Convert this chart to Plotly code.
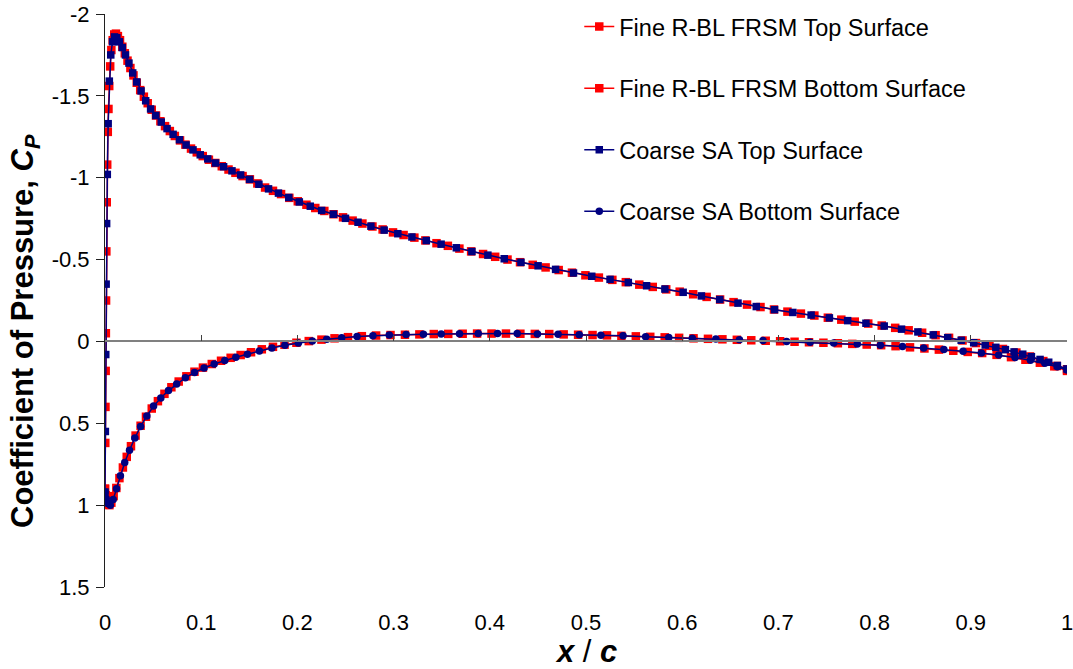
import plotly.graph_objects as go

# ---------------- data ----------------
fine_top_x = [0.0, 0.0003, 0.0005, 0.0007, 0.0009, 0.0011, 0.0014, 0.0018, 0.0023, 0.0029,
              0.0036, 0.0044, 0.0054, 0.0066, 0.0080, 0.0096, 0.0114, 0.0134, 0.0156, 0.0180,
              0.0206, 0.0234, 0.0264, 0.0296, 0.0330, 0.0366, 0.0404, 0.0444, 0.0486, 0.0530,
              0.0576, 0.0624, 0.0674, 0.0726, 0.0780, 0.0836, 0.0894, 0.0954, 0.1016, 0.1080,
              0.1146, 0.1214, 0.1284, 0.1356, 0.1430, 0.1506, 0.1584, 0.1664, 0.1746, 0.1830,
              0.1916, 0.2004, 0.2094, 0.2186, 0.2280, 0.2376, 0.2474, 0.2574, 0.2676, 0.2780,
              0.2886, 0.2994, 0.3104, 0.3216, 0.3330, 0.3446, 0.3564, 0.3684, 0.3806, 0.3930,
              0.4056, 0.4184, 0.4314, 0.4446, 0.4580, 0.4716, 0.4854, 0.4994, 0.5134, 0.5274,
              0.5414, 0.5554, 0.5694, 0.5834, 0.5974, 0.6114, 0.6254, 0.6394, 0.6534, 0.6674,
              0.6814, 0.6954, 0.7094, 0.7234, 0.7374, 0.7514, 0.7654, 0.7794, 0.7934, 0.8074,
              0.8214, 0.8354, 0.8494, 0.8634, 0.8774, 0.8914, 0.9054, 0.9194, 0.9334, 0.9474,
              0.9614, 0.9754, 0.9894, 1.0]
fine_top_cp = [0.90, 0.62, 0.40, 0.18, -0.05, -0.25, -0.55, -0.85, -1.08, -1.28,
               -1.42, -1.56, -1.68, -1.78, -1.84, -1.875, -1.88, -1.865, -1.84, -1.80,
               -1.76, -1.715, -1.67, -1.625, -1.58, -1.535, -1.495, -1.455, -1.415, -1.38,
               -1.345, -1.315, -1.285, -1.255, -1.228, -1.202, -1.178, -1.155, -1.132, -1.11,
               -1.09, -1.07, -1.05, -1.03, -1.01, -0.99, -0.965, -0.94, -0.92, -0.90,
               -0.877, -0.856, -0.835, -0.815, -0.797, -0.777, -0.758, -0.738, -0.72, -0.702,
               -0.684, -0.666, -0.65, -0.634, -0.617, -0.60, -0.584, -0.567, -0.55, -0.534,
               -0.517, -0.50, -0.484, -0.468, -0.452, -0.436, -0.42, -0.404, -0.39, -0.376,
               -0.362, -0.347, -0.333, -0.318, -0.304, -0.288, -0.272, -0.256, -0.240, -0.225,
               -0.21, -0.195, -0.182, -0.17, -0.158, -0.145, -0.133, -0.121, -0.109, -0.097,
               -0.083, -0.068, -0.053, -0.038, -0.022, -0.006, 0.01, 0.027, 0.046, 0.068,
               0.092, 0.12, 0.15, 0.17]

fine_bot_x = [0.0, 0.0008, 0.0018, 0.0030, 0.0046, 0.0066, 0.0090, 0.0118, 0.0150, 0.0186,
              0.0226, 0.0270, 0.0318, 0.0370, 0.0426, 0.0486, 0.0550, 0.0618, 0.0690, 0.0766,
              0.0846, 0.0930, 0.1018, 0.1110, 0.1206, 0.1306, 0.1410, 0.1518, 0.1630, 0.1746,
              0.1866, 0.1990, 0.2118, 0.2250, 0.2386, 0.2526, 0.2670, 0.2818, 0.2968, 0.3118,
              0.3268, 0.3418, 0.3568, 0.3718, 0.3868, 0.4018, 0.4168, 0.4318, 0.4468, 0.4618,
              0.4768, 0.4918, 0.5068, 0.5218, 0.5368, 0.5518, 0.5668, 0.5818, 0.5968, 0.6118,
              0.6268, 0.6418, 0.6568, 0.6718, 0.6868, 0.7018, 0.7168, 0.7318, 0.7468, 0.7618,
              0.7768, 0.7918, 0.8068, 0.8218, 0.8368, 0.8518, 0.8668, 0.8818, 0.8968, 0.9118,
              0.9268, 0.9418, 0.9568, 0.9718, 0.9868, 1.0]
fine_bot_cp = [0.90, 0.94, 0.975, 0.995, 1.0, 0.985, 0.945, 0.895, 0.835, 0.77,
               0.705, 0.64, 0.575, 0.515, 0.46, 0.41, 0.365, 0.32, 0.28, 0.245,
               0.213, 0.185, 0.16, 0.138, 0.118, 0.10, 0.083, 0.066, 0.048, 0.033,
               0.02, 0.008, -0.002, -0.011, -0.019, -0.026, -0.032, -0.036, -0.039, -0.041,
               -0.043, -0.045, -0.046, -0.047, -0.048, -0.048, -0.048, -0.047, -0.046, -0.045,
               -0.043, -0.041, -0.039, -0.037, -0.034, -0.031, -0.028, -0.025, -0.022, -0.019,
               -0.016, -0.013, -0.010, -0.007, -0.004, -0.001, 0.002, 0.005, 0.008, 0.011,
               0.015, 0.019, 0.023, 0.029, 0.036, 0.043, 0.05, 0.057, 0.064, 0.071,
               0.082, 0.096, 0.112, 0.13, 0.152, 0.18]

coarse_top_x = [0.0, 0.0004, 0.0008, 0.0012, 0.0017, 0.0024, 0.0033, 0.0045, 0.0060, 0.0078,
                0.0099, 0.0123, 0.0150, 0.0180, 0.0213, 0.0249, 0.0288, 0.0330, 0.0375, 0.0423,
                0.0474, 0.0528, 0.0585, 0.0645, 0.0708, 0.0774, 0.0843, 0.0915, 0.0990, 0.1068,
                0.1149, 0.1233, 0.1320, 0.1410, 0.1503, 0.1600, 0.1700, 0.1803, 0.1910, 0.2020,
                0.2134, 0.2252, 0.2374, 0.2500, 0.2630, 0.2764, 0.2902, 0.3044, 0.3190, 0.3340,
                0.3494, 0.3652, 0.3814, 0.3980, 0.4150, 0.4324, 0.4502, 0.4684, 0.4870, 0.5060,
                0.5250, 0.5440, 0.5630, 0.5820, 0.6010, 0.6200, 0.6390, 0.6580, 0.6770, 0.6960,
                0.7150, 0.7340, 0.7530, 0.7720, 0.7910, 0.8100, 0.8280, 0.8450, 0.8610, 0.8760,
                0.8900, 0.9030, 0.9150, 0.9260, 0.9360, 0.9450, 0.9540, 0.9630, 0.9720, 0.9810,
                0.9900, 1.0]
coarse_top_cp = [0.92, 0.55, 0.08, -0.35, -0.72, -1.02, -1.33, -1.59, -1.75, -1.83,
                 -1.86, -1.855, -1.83, -1.795, -1.75, -1.70, -1.64, -1.585, -1.53, -1.47,
                 -1.42, -1.38, -1.34, -1.30, -1.265, -1.232, -1.20, -1.17, -1.14, -1.115,
                 -1.09, -1.067, -1.042, -1.017, -0.99, -0.96, -0.932, -0.906, -0.879, -0.852,
                 -0.826, -0.80, -0.777, -0.752, -0.728, -0.704, -0.68, -0.658, -0.638, -0.616,
                 -0.594, -0.572, -0.549, -0.527, -0.505, -0.483, -0.462, -0.44, -0.418, -0.398,
                 -0.379, -0.36, -0.34, -0.32, -0.30, -0.278, -0.256, -0.234, -0.213, -0.194,
                 -0.177, -0.161, -0.144, -0.127, -0.111, -0.094, -0.075, -0.058, -0.04, -0.023,
                 -0.007, 0.008, 0.022, 0.036, 0.05, 0.064, 0.078, 0.093, 0.11, 0.127,
                 0.147, 0.168]

coarse_bot_x = [0.0, 0.0012, 0.0030, 0.0055, 0.0085, 0.0120, 0.0160, 0.0205, 0.0255, 0.0310,
                0.0370, 0.0435, 0.0505, 0.0580, 0.0660, 0.0745, 0.0835, 0.0930, 0.1030, 0.1135,
                0.1245, 0.1360, 0.1480, 0.1605, 0.1735, 0.1870, 0.2010, 0.2155, 0.2305, 0.2460,
                0.2620, 0.2785, 0.2955, 0.3130, 0.3310, 0.3495, 0.3685, 0.3880, 0.4080, 0.4285,
                0.4495, 0.4710, 0.4930, 0.5155, 0.5385, 0.5620, 0.5860, 0.6105, 0.6350, 0.6595,
                0.6840, 0.7085, 0.7330, 0.7575, 0.7820, 0.8060, 0.8290, 0.8510, 0.8720, 0.8920,
                0.9110, 0.9290, 0.9460, 0.9620, 0.9770, 0.9900, 1.0]
coarse_bot_cp = [0.92, 0.96, 0.99, 1.0, 0.965, 0.90, 0.82, 0.74, 0.665, 0.59,
                 0.52, 0.455, 0.395, 0.345, 0.30, 0.26, 0.222, 0.19, 0.162, 0.138,
                 0.117, 0.097, 0.078, 0.058, 0.04, 0.024, 0.01, -0.003, -0.013, -0.022,
                 -0.03, -0.035, -0.039, -0.042, -0.044, -0.046, -0.047, -0.048, -0.049, -0.048,
                 -0.046, -0.044, -0.041, -0.038, -0.034, -0.029, -0.024, -0.02, -0.015, -0.01,
                 -0.005, 0.0, 0.005, 0.01, 0.016, 0.023, 0.031, 0.04, 0.05, 0.06,
                 0.07, 0.083, 0.098, 0.115, 0.134, 0.155, 0.175]

series_names = ["Fine R-BL FRSM Top Surface", "Fine R-BL FRSM Bottom Surface",
                "Coarse SA Top Surface", "Coarse SA Bottom Surface"]

x_tick_vals = [0, 0.1, 0.2, 0.3, 0.4, 0.5, 0.6, 0.7, 0.8, 0.9, 1.0]
x_tick_text = ["0", "0.1", "0.2", "0.3", "0.4", "0.5", "0.6", "0.7", "0.8", "0.9", "1"]
y_tick_vals = [-2, -1.5, -1, -0.5, 0, 0.5, 1, 1.5]
y_tick_text = ["-2", "-1.5", "-1", "-0.5", "0", "0.5", "1", "1.5"]
y_min, y_max = -2, 1.5

# ---------------- figure ----------------
RED = "#FF0000"
NAVY = "#000080"
FONT = "Liberation Sans, Arial, sans-serif"

fig = go.Figure()
styles = [
    (fine_top_x, fine_top_cp, RED, "square", 8.5),
    (fine_bot_x, fine_bot_cp, RED, "square", 8.5),
    (coarse_top_x, coarse_top_cp, NAVY, "square", 7.5),
    (coarse_bot_x, coarse_bot_cp, NAVY, "circle", 7.5),
]
for i, (xs, ys, col, sym, sz) in enumerate(styles):
    fig.add_trace(go.Scatter(
        x=xs, y=ys, mode="lines+markers", name=series_names[i],
        line=dict(color=col, width=1.5),
        marker=dict(color=col, symbol=sym, size=sz, line=dict(width=0)),
        legendgroup=f"g{i}",
    ))

# empty helper trace so that the crossing x-axis (at Cp = 0) is drawn
fig.add_trace(go.Scatter(x=[None], y=[None], xaxis="x2", yaxis="y",
                         showlegend=False, hoverinfo="skip"))

fig.update_layout(
    width=1073, height=669,
    margin=dict(l=105, r=6, t=14, b=82, autoexpand=False),
    paper_bgcolor="white", plot_bgcolor="white",
    font=dict(family=FONT, size=22, color="black"),
    showlegend=True,
    legend=dict(x=0.493, y=1.016, xanchor="left", yanchor="top",
                font=dict(family=FONT, size=23.5, color="black"),
                tracegroupgap=28, bgcolor="rgba(0,0,0,0)", itemwidth=30),
    xaxis=dict(range=[0, 1], tickvals=x_tick_vals, ticktext=x_tick_text,
               showline=False, showgrid=False, zeroline=False,
               ticks="outside", ticklen=16, tickcolor="rgba(0,0,0,0)",
               ticklabeloverflow="allow",
               tickfont=dict(family=FONT, size=22, color="black")),
    xaxis2=dict(range=[0, 1], overlaying="x", anchor="free",
                position=(y_max - 0) / (y_max - y_min),
                side="bottom", showline=True, linecolor="#808080", linewidth=1.5,
                tickvals=x_tick_vals, ticks="inside", ticklen=6, tickcolor="#404040",
                showticklabels=False, showgrid=False, zeroline=False),
    yaxis=dict(range=[y_max, y_min], tickvals=y_tick_vals, ticktext=y_tick_text,
               showline=True, linecolor="#202020", linewidth=1,
               ticks="outside", ticklen=8, tickcolor="#202020",
               ticklabelstandoff=2,
               showgrid=False, zeroline=False,
               tickfont=dict(family=FONT, size=22, color="black")),
    annotations=[
        dict(text="<b>Coefficient of Pressure, <i>C<sub>P</sub></i></b>",
             xref="paper", yref="paper", x=0, y=(587 - 331) / 573,
             xanchor="center", yanchor="middle", xshift=-80, textangle=-90,
             showarrow=False, font=dict(family=FONT, size=31, color="black")),
        dict(text="<b><i>x</i></b> / <b><i>c</i></b>",
             xref="paper", yref="paper", x=0.5, y=0,
             xanchor="center", yanchor="middle", yshift=-64,
             showarrow=False, font=dict(family=FONT, size=31, color="black")),
    ],
)

fig.write_html("out.html",
               config={"displayModeBar": False},
               post_script="document.body.style.margin='0';"
                           "document.body.style.overflow='hidden';")
